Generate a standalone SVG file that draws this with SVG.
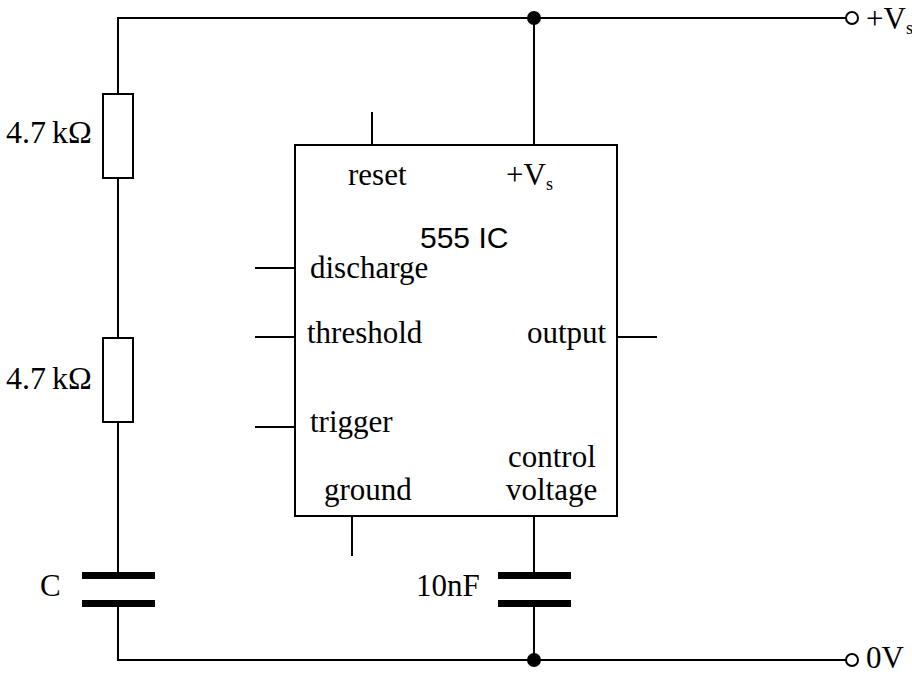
<svg xmlns="http://www.w3.org/2000/svg" width="912" height="675" viewBox="0 0 912 675">
<style>
.w{stroke:#000;stroke-width:2;fill:none}
.plate{fill:#000}
.t{font-family:"Liberation Serif","Times New Roman",serif;font-size:31px;fill:#000}
.big{font-size:32px}
.sub{font-size:18px}
.a{font-family:"Liberation Sans",Arial,sans-serif;font-size:30px;fill:#000}
</style>
<rect width="912" height="675" fill="#fff"/>
<g id="connectors">
<polyline class="w" points="846,18 118,18 118,94"/>
<line class="w" x1="118" y1="178" x2="118" y2="338"/>
<line class="w" x1="118" y1="422" x2="118" y2="572"/>
<polyline class="w" points="118,607 118,660 846,660"/>
<line class="w" x1="534" y1="18" x2="534" y2="145"/>
<line class="w" x1="372" y1="112" x2="372" y2="145"/>
<line class="w" x1="255" y1="268" x2="295" y2="268"/>
<line class="w" x1="255" y1="337" x2="295" y2="337"/>
<line class="w" x1="255" y1="427" x2="295" y2="427"/>
<line class="w" x1="617" y1="337" x2="657" y2="337"/>
<line class="w" x1="352" y1="516" x2="352" y2="556"/>
<line class="w" x1="534" y1="516" x2="534" y2="572"/>
<line class="w" x1="534" y1="607" x2="534" y2="660"/>
</g>
<g id="junction-top"><circle cx="534" cy="18" r="7" fill="#000"/></g>
<g id="junction-bottom"><circle cx="534" cy="660" r="7" fill="#000"/></g>
<g id="terminal-vs">
<circle class="w" cx="852" cy="18" r="6"/>
<text class="t" x="866" y="29">+V<tspan class="sub" dy="5">s</tspan></text>
</g>
<g id="terminal-0v">
<circle class="w" cx="852" cy="660" r="6"/>
<text class="t" x="866" y="668">0V</text>
</g>
<g id="r1">
<rect class="w" x="103" y="94" width="30" height="84"/>
<text class="t big" x="6" y="143">4.7<tspan dx="6">kΩ</tspan></text>
</g>
<g id="r2">
<rect class="w" x="103" y="338" width="30" height="84"/>
<text class="t big" x="6" y="389">4.7<tspan dx="6">kΩ</tspan></text>
</g>
<g id="c">
<rect class="plate" x="82" y="572" width="73" height="7"/>
<rect class="plate" x="82" y="600" width="73" height="7"/>
<text class="t" x="40" y="596">C</text>
</g>
<g id="c10nf">
<rect class="plate" x="498" y="572" width="73" height="7"/>
<rect class="plate" x="498" y="600" width="73" height="7"/>
<text class="t" x="416" y="596">10nF</text>
</g>
<g id="ic555">
<rect class="w" x="295" y="145" width="322" height="371"/>
<text class="t" x="348" y="185">reset</text>
<text class="t" x="506" y="185">+V<tspan class="sub" dy="5">s</tspan></text>
<text class="a" x="420" y="248">555 IC</text>
<text class="t" x="310" y="278">discharge</text>
<text class="t" x="307" y="343">threshold</text>
<text class="t" x="527" y="343">output</text>
<text class="t" x="310" y="432">trigger</text>
<text class="t" x="508" y="467">control</text>
<text class="t" x="506" y="500">voltage</text>
<text class="t" x="324" y="500">ground</text>
</g>
</svg>
